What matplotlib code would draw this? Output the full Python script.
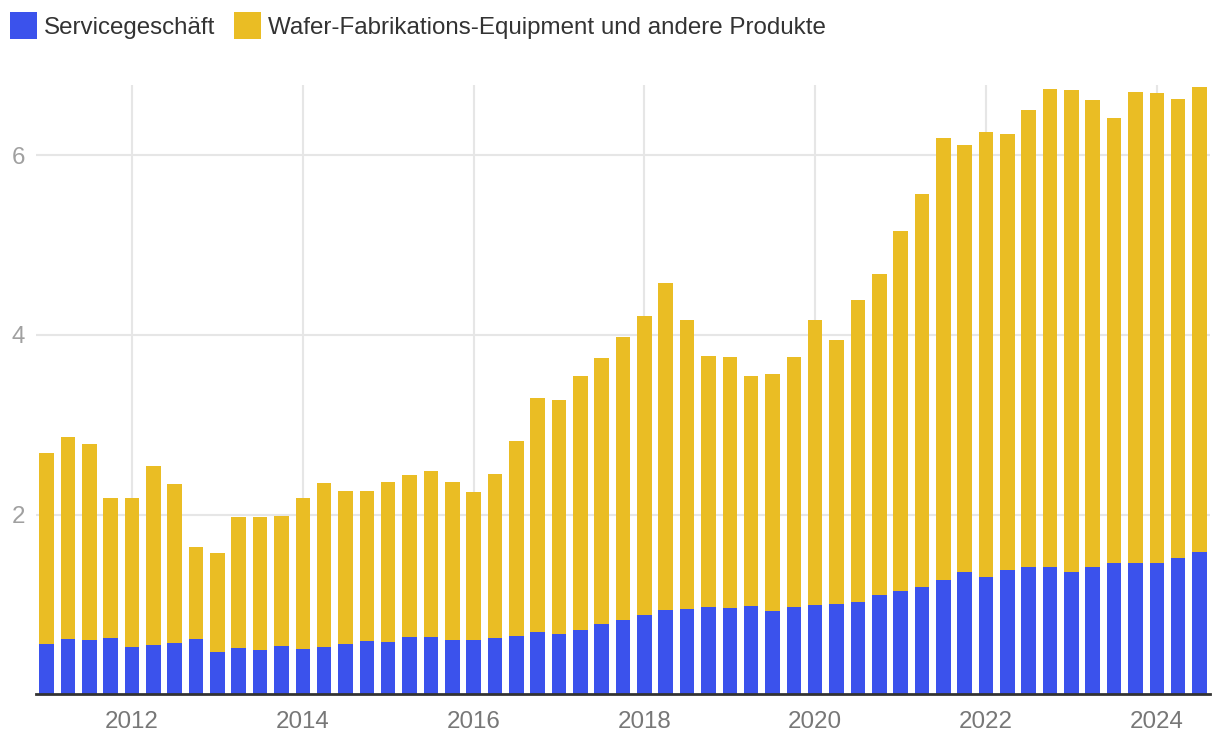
import matplotlib
matplotlib.use("Agg")
import matplotlib.pyplot as plt
import pandas as pd
from matplotlib.patches import Patch

plt.rcParams['font.family'] = ['Liberation Sans', 'DejaVu Sans']

quarters = pd.period_range('2011Q1', '2024Q3', freq='Q')

service = [0.559, 0.615, 0.604, 0.626, 0.526, 0.548, 0.570, 0.615, 0.471, 0.515,
           0.493, 0.537, 0.504, 0.526, 0.559, 0.593, 0.582, 0.637, 0.637, 0.604,
           0.604, 0.626, 0.648, 0.693, 0.670, 0.715, 0.782, 0.826, 0.882, 0.938,
           0.949, 0.971, 0.960, 0.982, 0.927, 0.971, 0.993, 1.008, 1.023, 1.100,
           1.145, 1.198, 1.276, 1.364, 1.310, 1.378, 1.413, 1.413, 1.364, 1.422,
           1.456, 1.466, 1.466, 1.520, 1.578]

wafer = [2.125, 2.247, 2.180, 1.558, 1.658, 1.992, 1.770, 1.028, 1.105, 1.462,
         1.484, 1.451, 1.680, 1.824, 1.703, 1.669, 1.780, 1.803, 1.848, 1.758,
         1.646, 1.825, 2.170, 2.603, 2.604, 2.826, 2.959, 3.149, 3.326, 3.637,
         3.215, 2.792, 2.792, 2.559, 2.636, 2.781, 3.171, 2.932, 3.361, 3.576,
         4.008, 4.374, 4.910, 4.744, 4.949, 4.852, 5.094, 5.323, 5.363, 5.193,
         4.959, 5.241, 5.227, 5.109, 5.183]

series_names = ['Servicegeschäft', 'Wafer-Fabrikations-Equipment und andere Produkte']
year_ticks = [2012, 2014, 2016, 2018, 2020, 2022, 2024]
y_ticks = [2, 4, 6]

BLUE = '#3b52ec'
YELLOW = '#eabd24'

x = [q.year + (q.quarter - 1) / 4 for q in quarters]

fig = plt.figure(figsize=(12.2, 7.48), dpi=100)
ax = fig.add_axes([36 / 1220, (748 - 694.3) / 748, (1210 - 36) / 1220, (694.3 - 85) / 748])

w = 0.17
ax.bar(x, service, width=w, color=BLUE, zorder=3, linewidth=0)
ax.bar(x, wafer, width=w, bottom=service, color=YELLOW, zorder=3, linewidth=0)

ax.set_xlim(2010.876, 2024.623)
ax.set_ylim(0, 6.78)

ax.set_xticks(year_ticks)
ax.set_xticklabels([str(y) for y in year_ticks])
ax.set_yticks(y_ticks)
ax.set_yticklabels([str(v) for v in y_ticks])

ax.grid(True, color='#e6e6e6', linewidth=1.5, zorder=0)
ax.set_axisbelow(True)
for s in ['top', 'right', 'left']:
    ax.spines[s].set_visible(False)
ax.spines['bottom'].set_color('#333333')
ax.spines['bottom'].set_linewidth(2)
ax.spines['bottom'].set_zorder(4)

ax.tick_params(axis='x', length=0, pad=12, labelsize=17.4, labelcolor='#777777')
ax.tick_params(axis='y', length=0, pad=8, labelsize=17.4, labelcolor='#a0a0a0')

handles = [Patch(facecolor=BLUE, edgecolor='none'), Patch(facecolor=YELLOW, edgecolor='none')]
fig.legend(handles, series_names, loc='upper left', bbox_to_anchor=(10 / 1220, 1 - 12 / 748),
           ncol=2, frameon=False, fontsize=17.4, handlelength=1.12, handleheight=1.34,
           handletextpad=0.3, columnspacing=0.75, borderpad=0, borderaxespad=0,
           labelcolor='#333333')

fig.savefig('out.png', dpi=100)
